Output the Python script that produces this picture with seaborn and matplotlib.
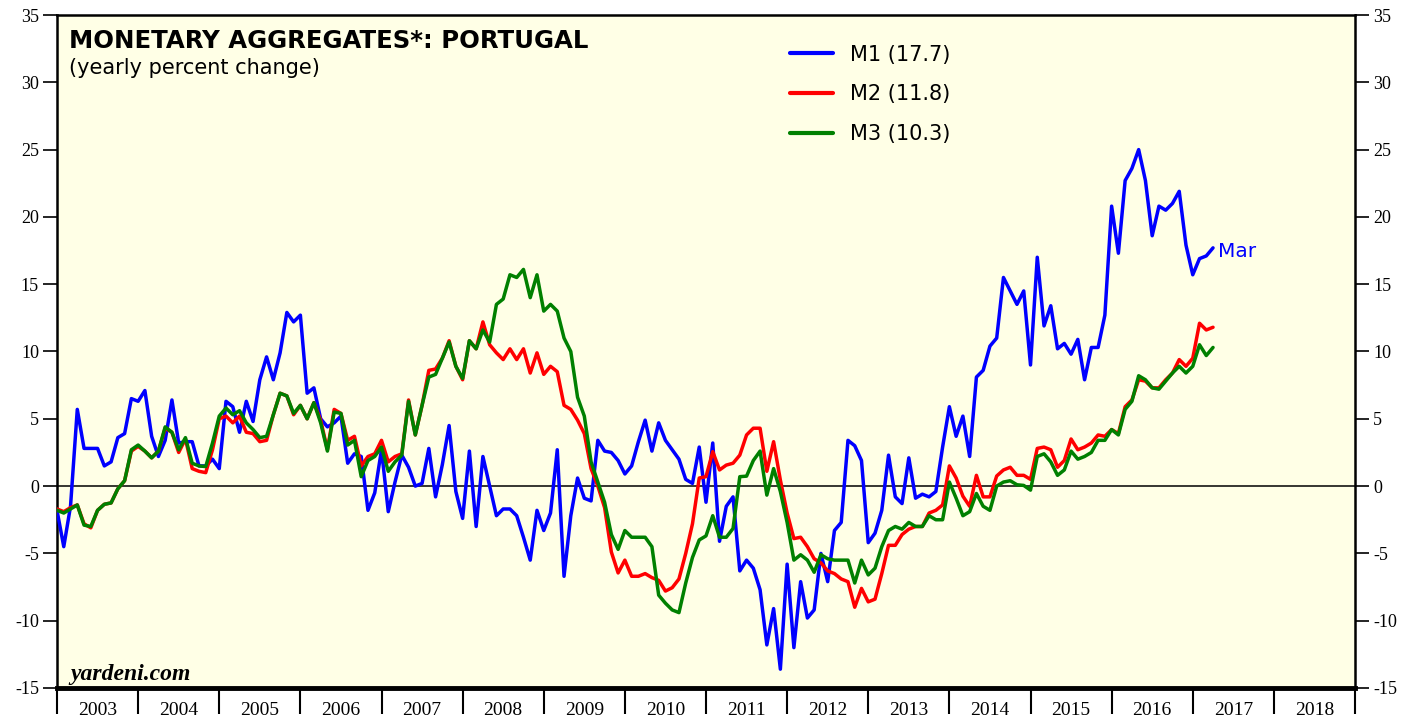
import numpy as np
import pandas as pd
import seaborn as sns
import matplotlib.pyplot as plt
from matplotlib.ticker import FixedLocator, NullFormatter, FixedFormatter

# Monthly data, Dec 2002 .. Mar 2017 (yearly percent change)
m1 = [
    -1.8, -4.5, -1.5, 5.7, 2.8, 2.8, 2.8, 1.5, 1.8, 3.6, 3.9, 6.5,
    6.3, 7.1, 3.7, 2.2, 3.4, 6.4, 3.2, 3.3, 3.3, 1.5, 1.5, 2.0,
    1.3, 6.3, 5.9, 4.0, 6.3, 4.8, 7.9, 9.6, 7.9, 9.9, 12.9, 12.2,
    12.7, 6.9, 7.3, 5.0, 4.4, 4.7, 5.2, 1.7, 2.4, 2.2, -1.8, -0.5,
    2.7, -1.9, 0.3, 2.3, 1.4, 0.0, 0.2, 2.8, -0.8, 1.6, 4.5, -0.4,
    -2.4, 2.6, -3.0, 2.2, 0.0, -2.2, -1.7, -1.7, -2.2, -3.8, -5.5, -1.8,
    -3.3, -2.0, 2.7, -6.7, -2.2, 0.6, -0.9, -1.1, 3.4, 2.6, 2.5, 1.9,
    0.9, 1.5, 3.3, 4.9, 2.6, 4.7, 3.4, 2.7, 2.0, 0.5, 0.2, 2.9,
    -1.2, 3.2, -4.1, -1.5, -0.8, -6.3, -5.5, -6.1, -7.7, -11.8, -9.1, -13.6,
    -5.8, -12.0, -7.1, -9.8, -9.2, -5.0, -7.1, -3.3, -2.7, 3.4, 3.0, 1.9,
    -4.2, -3.5, -1.8, 2.3, -0.8, -1.3, 2.1, -0.9, -0.6, -0.8, -0.4, 2.9,
    5.9, 3.7, 5.2, 2.2, 8.1, 8.6, 10.4, 11.0, 15.5, 14.5, 13.5, 14.5,
    9.0, 17.0, 11.9, 13.4, 10.2, 10.6, 9.8, 10.9, 7.9, 10.3, 10.3, 12.7,
    20.8, 17.3, 22.7, 23.6, 25.0, 22.7, 18.6, 20.8, 20.5, 21.0, 21.9, 17.9,
    15.7, 16.9, 17.1, 17.7,
]
m2 = [
    -1.7, -1.9, -1.6, -1.4, -2.8, -3.1, -1.8, -1.35, -1.25, -0.2, 0.4, 2.6,
    2.95, 2.6, 2.1, 2.6, 4.3, 4.0, 2.5, 3.5, 1.3, 1.1, 1.0, 2.7,
    5.0, 5.2, 4.7, 5.2, 4.0, 3.9, 3.3, 3.4, 5.3, 6.9, 6.7, 5.3,
    6.0, 5.0, 6.2, 4.9, 2.7, 5.7, 5.4, 3.4, 3.7, 1.5, 2.2, 2.4,
    3.4, 1.8, 2.2, 2.4, 6.4, 3.8, 6.0, 8.6, 8.7, 9.5, 10.8, 8.9,
    7.9, 10.8, 10.2, 12.2, 10.5, 9.9, 9.4, 10.2, 9.4, 10.2, 8.4, 9.9,
    8.3, 8.9, 8.5, 6.0, 5.7, 4.9, 3.9, 1.3, 0.0, -1.6, -4.9, -6.45,
    -5.5, -6.7, -6.7, -6.5, -6.8, -7.0, -7.8, -7.55, -6.9, -5.0, -2.8, 0.6,
    0.7, 2.56, 1.2, 1.56, 1.7, 2.3, 3.8, 4.3, 4.3, 1.1, 3.3, 0.45,
    -2.0, -3.9, -3.8, -4.5, -5.4, -5.7, -6.3, -6.5, -6.9, -7.1, -9.0, -7.6,
    -8.6, -8.4, -6.5, -4.4, -4.4, -3.6, -3.2, -3.0, -3.0, -2.0, -1.8, -1.4,
    1.5, 0.6, -0.75, -1.5, 0.8, -0.8, -0.8, 0.75, 1.2, 1.4, 0.8, 0.8,
    0.5, 2.8, 2.9, 2.7, 1.4, 1.9, 3.5, 2.7, 2.9, 3.2, 3.8, 3.7,
    4.2, 3.9, 5.9, 6.4, 7.9, 7.8, 7.3, 7.3, 7.9, 8.4, 9.4, 8.9,
    9.5, 12.1, 11.6, 11.8,
]
m3 = [
    -1.8, -2.0, -1.7, -1.4, -2.9, -3.0, -1.8, -1.35, -1.25, -0.2, 0.4, 2.7,
    3.05, 2.6, 2.1, 2.6, 4.4, 4.0, 2.7, 3.6, 1.7, 1.5, 1.45, 3.2,
    5.2, 5.8, 5.3, 5.6, 4.7, 4.2, 3.6, 3.7, 5.3, 6.9, 6.7, 5.4,
    6.0, 5.0, 6.2, 4.7, 2.6, 5.5, 5.4, 3.05, 3.4, 0.7, 1.9, 2.2,
    2.9, 1.1, 1.8, 2.3, 6.3, 3.8, 6.0, 8.1, 8.3, 9.5, 10.7, 8.9,
    8.0, 10.8, 10.2, 11.6, 10.7, 13.5, 13.9, 15.7, 15.5, 16.1, 14.0, 15.7,
    13.0, 13.5, 13.0, 11.0, 10.0, 6.6, 5.2, 1.8, 0.3, -1.2, -3.6, -4.7,
    -3.3, -3.8, -3.8, -3.8, -4.5, -8.1, -8.7, -9.2, -9.4, -7.2, -5.3, -4.0,
    -3.7, -2.2, -3.8, -3.8, -3.15, 0.7, 0.74, 1.9, 2.6, -0.67, 1.3, -0.4,
    -2.7, -5.5, -5.1, -5.5, -6.4, -5.1, -5.4, -5.5, -5.5, -5.5, -7.2, -5.5,
    -6.6, -6.1, -4.5, -3.3, -3.0, -3.2, -2.7, -3.0, -3.0, -2.2, -2.5, -2.5,
    0.3, -0.9, -2.2, -1.9, -0.55, -1.5, -1.8, 0.0, 0.3, 0.4, 0.1, 0.05,
    -0.3, 2.2, 2.4, 1.8, 0.8, 1.2, 2.6, 2.0, 2.2, 2.5, 3.4, 3.4,
    4.2, 3.8, 5.7, 6.3, 8.2, 7.9, 7.3, 7.2, 7.8, 8.4, 8.9, 8.4,
    8.9, 10.5, 9.7, 10.3,
]
series_names = ["M1 (17.7)", "M2 (11.8)", "M3 (10.3)"]
series_colors = ["#0000FF", "#FF0000", "#008000"]
year_labels = [str(y) for y in range(2003, 2019)]
y_ticks = list(range(-15, 40, 5))

months = pd.date_range("2002-12-01", periods=len(m1), freq="MS")
xpos = months.year + months.month / 12.0

df = pd.DataFrame({"x": xpos, series_names[0]: m1, series_names[1]: m2, series_names[2]: m3})
long = df.melt(id_vars="x", var_name="series", value_name="value")

sns.set_theme(style="ticks")
plt.rcParams["font.family"] = ["DejaVu Sans"]
plt.rcParams["axes.unicode_minus"] = False
plt.rcParams["text.color"] = "black"

fig = plt.figure(figsize=(14.19, 7.19), dpi=100)
fig.patch.set_facecolor("white")
ax = fig.add_axes([57 / 1419, 1 - 688 / 719, (1355 - 57) / 1419, (688 - 15) / 719])
ax.set_facecolor("#FFFFE6")

ax.axhline(0, color="black", lw=1.1, zorder=1)

sns.lineplot(data=long, x="x", y="value", hue="series", hue_order=series_names,
             palette=series_colors, linewidth=2.5, ax=ax, zorder=3, legend=True)

ax.set_xlim(2003, 2019)
ax.set_ylim(-15, 35)
ax.set_xlabel("")
ax.set_ylabel("")

# y axis both sides
ax.set_yticks(y_ticks)
ax.tick_params(axis="y", which="major", left=True, right=True, labelleft=True, labelright=True,
               direction="out", length=10, width=1.2, pad=3, labelsize=13, colors="black")
for lab in ax.get_yticklabels():
    lab.set_family("Liberation Serif")

# x axis: ticks at year boundaries, labels centered
ax.xaxis.set_major_locator(FixedLocator(np.arange(2003, 2020)))
ax.xaxis.set_major_formatter(NullFormatter())
ax.xaxis.set_minor_locator(FixedLocator(np.arange(2003.5, 2019, 1.0)))
ax.xaxis.set_minor_formatter(FixedFormatter(year_labels))
ax.tick_params(axis="x", which="major", direction="out", length=19, width=1.5, bottom=True, top=False,
               color="black")
ax.tick_params(axis="x", which="minor", length=0, pad=10, labelsize=14, labelcolor="black")
for lab in ax.xaxis.get_minorticklabels():
    lab.set_family("Liberation Serif")

for side in ["left", "right", "top"]:
    ax.spines[side].set_linewidth(1.8)
    ax.spines[side].set_color("black")
ax.spines["bottom"].set_linewidth(3.5)
ax.spines["bottom"].set_color("black")

leg = ax.legend(loc="upper left", bbox_to_anchor=(0.565, 0.956), frameon=False,
                prop={"family": "DejaVu Sans", "size": 15}, handlelength=2.07,
                handletextpad=0.8, labelspacing=0.95, borderpad=0, borderaxespad=0)
for line in leg.get_lines():
    line.set_linewidth(3)
for t in leg.get_texts():
    t.set_color("black")

ax.text(0.0095, 0.951, "MONETARY AGGREGATES*: PORTUGAL", transform=ax.transAxes,
        fontsize=17.6, fontweight="bold", family="DejaVu Sans", ha="left", va="baseline", color="black")
ax.text(0.0095, 0.913, "(yearly percent change)", transform=ax.transAxes,
        fontsize=15, family="DejaVu Sans", ha="left", va="baseline", color="black")
ax.text(xpos[-1] + 0.06, m1[-1] - 0.3, "Mar", color="#0000FF", fontsize=14.5,
        family="DejaVu Sans", ha="left", va="center")
ax.text(0.01, 0.012, "yardeni.com", transform=ax.transAxes, fontsize=17, color="black",
        family="Liberation Serif", style="italic", fontweight="bold", ha="left", va="baseline")

fig.savefig("out.png", dpi=100)
